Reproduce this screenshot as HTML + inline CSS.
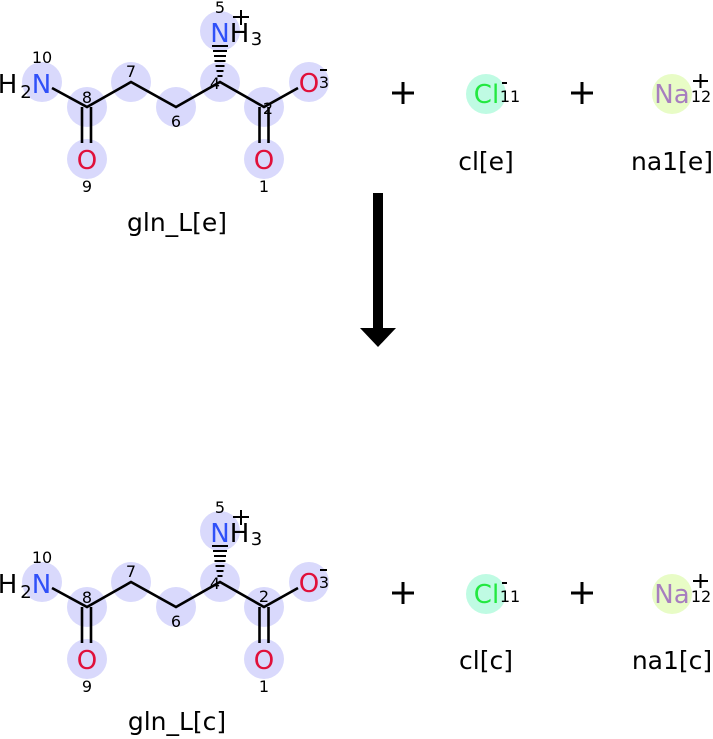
<!DOCTYPE html>
<html><head><meta charset="utf-8"><style>
html,body{margin:0;padding:0;background:#fff;}
svg{display:block;}
text{font-family:"DejaVu Sans","Liberation Sans",sans-serif;}
</style></head><body>
<svg width="713" height="739" viewBox="0 0 713 739" xmlns="http://www.w3.org/2000/svg">
<defs>
<g id="molbase">
  <g fill="#d9d9fc">
    <circle cx="42" cy="82" r="20"/><circle cx="87" cy="107" r="20"/><circle cx="131" cy="82" r="20"/>
    <circle cx="176" cy="107" r="20"/><circle cx="220" cy="82" r="20"/><circle cx="264" cy="107" r="20"/>
    <circle cx="309" cy="82" r="20"/><circle cx="87" cy="159" r="20"/><circle cx="264" cy="159" r="20"/>
    <circle cx="220" cy="31" r="20"/>
  </g>
  <g stroke="#000" stroke-width="2.6" fill="none" stroke-linecap="butt">
    <polyline points="52,88 87,107 131,82 176,107 220,82 264,107 298,88"/>
    <line x1="82" y1="107" x2="82" y2="143"/><line x1="91" y1="107" x2="91" y2="143"/>
    <line x1="259.5" y1="107" x2="259.5" y2="143"/><line x1="268.5" y1="107" x2="268.5" y2="143"/>
  </g>
  <g stroke="#000" stroke-width="2">
    <line x1="212" y1="46" x2="228" y2="46"/><line x1="213" y1="51" x2="227" y2="51"/>
    <line x1="214" y1="56" x2="226" y2="56"/><line x1="214.5" y1="61" x2="225.5" y2="61"/>
    <line x1="215.5" y1="66" x2="224.5" y2="66"/><line x1="216.5" y1="71" x2="223.5" y2="71"/>
    <line x1="217.5" y1="76" x2="222.5" y2="76"/>
  </g>
  <g font-size="26" text-anchor="middle">
    <text x="7.5" y="93" fill="#000">H</text>
    <text x="41.5" y="93" fill="#3050f8">N</text>
    <text x="87" y="169" fill="#e0103a">O</text>
    <text x="264" y="169" fill="#e0103a">O</text>
    <text x="309" y="92" fill="#e0103a">O</text>
    <text x="220" y="42" fill="#3050f8">N</text>
    <text x="239.5" y="42" fill="#000">H</text>
  </g>
  <g font-size="18" text-anchor="middle" fill="#000">
    <text x="26" y="98">2</text>
    <text x="256.5" y="45">3</text>
  </g>
  <g font-size="16" text-anchor="middle" fill="#000">
    <text x="42" y="63">10</text>
    <text x="87" y="103">8</text>
    <text x="131" y="77">7</text>
    <text x="176" y="127">6</text>
    <text x="87" y="192">9</text>
    <text x="264" y="192">1</text>
    <text x="215" y="89">4</text>
    <text x="324" y="88">3</text>
    <text x="220" y="13">5</text>
  </g>
  <g stroke="#000" stroke-width="2">
    <line x1="320" y1="70" x2="327" y2="70"/>
    <line x1="233" y1="17" x2="249" y2="17"/><line x1="241" y1="10" x2="241" y2="25"/>
  </g>
  <g stroke="#000" stroke-width="3">
    <line x1="392" y1="93" x2="414" y2="93"/><line x1="403" y1="82" x2="403" y2="104"/>
    <line x1="571" y1="93" x2="593" y2="93"/><line x1="582" y1="82" x2="582" y2="104"/>
  </g>
  <circle cx="486" cy="94" r="20" fill="#bffbe3"/>
  <circle cx="672" cy="94" r="20" fill="#e8fcc6"/>
  <text x="486.5" y="103" font-size="26" text-anchor="middle" fill="#22e840">Cl</text>
  <text x="510" y="102" font-size="16" text-anchor="middle" fill="#000">11</text>
  <line x1="502" y1="83" x2="507" y2="83" stroke="#000" stroke-width="2"/>
  <text x="672" y="103" font-size="26" text-anchor="middle" fill="#a77ebf">Na</text>
  <text x="701" y="102" font-size="16" text-anchor="middle" fill="#000">12</text>
  <g stroke="#000" stroke-width="2">
    <line x1="693" y1="81" x2="708" y2="81"/><line x1="700.5" y1="74" x2="700.5" y2="88"/>
  </g>
</g>
</defs>

<use href="#molbase"/>
<text x="268" y="114" font-size="16" text-anchor="middle" fill="#000">2</text>
<g font-size="25" text-anchor="middle" fill="#000">
  <text x="177" y="231">gln_L[e]</text>
  <text x="486" y="170">cl[e]</text>
  <text x="672" y="170">na1[e]</text>
</g>

<rect x="373" y="193" width="10" height="137" fill="#000"/>
<polygon points="360,328 396,328 378,347" fill="#000"/>

<g transform="translate(0,500)">
  <use href="#molbase"/>
  <text x="264" y="102" font-size="16" text-anchor="middle" fill="#000">2</text>
  <g font-size="25" text-anchor="middle" fill="#000">
    <text x="177" y="230">gln_L[c]</text>
    <text x="486" y="169">cl[c]</text>
    <text x="672" y="169">na1[c]</text>
  </g>
</g>
</svg>
</body></html>
